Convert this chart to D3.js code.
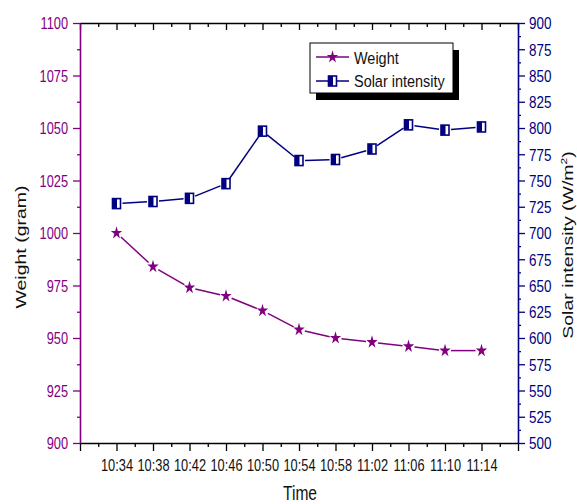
<!DOCTYPE html>
<html>
<head>
<meta charset="utf-8">
<script src="https://cdn.jsdelivr.net/npm/d3@7"></script>
<style>
  body { margin: 0; background: #fff; }
  svg { display: block; font-family: "Liberation Sans", Arial, sans-serif; }
</style>
</head>
<body>
<svg id="chart" width="577" height="504"></svg>
<script>
// data
var times = ["10:34", "10:38", "10:42", "10:46", "10:50", "10:54", "10:58", "11:02", "11:06", "11:10", "11:14"];
var weight = [1000, 984, 974, 970, 963, 954, 950, 948, 946, 944, 944];
var solar = [728, 730, 733, 747, 797, 769, 770, 780, 803, 798, 801];
var weightTicks = [900, 925, 950, 975, 1000, 1025, 1050, 1075, 1100];
var solarTicks = d3.range(500, 901, 25);

var purple = "#800080";
var navy = "#000080";

var svg = d3.select("#chart");
var plotLeft = 80, plotRight = 518, plotTop = 23, plotBottom = 443;

var x = d3.scaleLinear().domain([-1, times.length]).range([plotLeft, plotRight]);
var yL = d3.scaleLinear().domain([900, 1100]).range([plotBottom, plotTop]);
var yR = d3.scaleLinear().domain([500, 900]).range([plotBottom, plotTop]);

/* x axes */
var majorX = d3.range(-1, times.length + 1);
var minorX = d3.range(-0.5, times.length, 1);

var gB = svg.append("g").attr("transform", "translate(0," + plotBottom + ")")
  .call(d3.axisBottom(x).tickValues(majorX).tickSize(8).tickSizeOuter(0)
    .tickFormat(function(i){ return times[i] || ""; }));
svg.append("g").attr("transform", "translate(0," + plotBottom + ")")
  .call(d3.axisBottom(x).tickValues(minorX).tickSize(4).tickSizeOuter(0).tickFormat(""))
  .select(".domain").remove();
gB.selectAll("text")
  .attr("y", 0).attr("dy", 0)
  .attr("transform", "translate(0,28) scale(0.8,1)")
  .attr("font-size", 16).attr("fill", "#111");

var gT = svg.append("g").attr("transform", "translate(0," + plotTop + ")")
  .call(d3.axisTop(x).tickValues(majorX).tickSize(-7).tickSizeOuter(0).tickFormat(""));
svg.append("g").attr("transform", "translate(0," + plotTop + ")")
  .call(d3.axisTop(x).tickValues(minorX).tickSize(-4).tickSizeOuter(0).tickFormat(""))
  .select(".domain").remove();

[gB, gT].forEach(function(g){
  g.select(".domain").attr("stroke", "#000").attr("stroke-width", 1.6);
});
svg.selectAll(".tick line").attr("stroke", "#000").attr("stroke-width", 1.3);

/* left axis */
var gL = svg.append("g").attr("transform", "translate(" + plotLeft + ",0)")
  .call(d3.axisLeft(yL).tickValues(weightTicks).tickSize(7).tickSizeOuter(0).tickFormat(d3.format("d")));
var gLm = svg.append("g").attr("transform", "translate(" + plotLeft + ",0)")
  .call(d3.axisLeft(yL).tickValues(d3.range(912.5, 1100, 25)).tickSize(3).tickSizeOuter(0).tickFormat(""));
gLm.select(".domain").remove();
gL.select(".domain").attr("stroke", purple).attr("stroke-width", 1.6);
gL.selectAll(".tick line").attr("stroke", purple).attr("stroke-width", 1.3);
gLm.selectAll(".tick line").attr("stroke", purple).attr("stroke-width", 1.3);
gL.selectAll("text")
  .attr("x", 0).attr("dy", "0.36em")
  .attr("transform", "translate(-12,0) scale(0.8,1)")
  .attr("font-size", 16).attr("fill", purple);

/* right axis */
var gR = svg.append("g").attr("transform", "translate(" + plotRight + ",0)")
  .call(d3.axisRight(yR).tickValues(solarTicks).tickSize(7).tickSizeOuter(0).tickFormat(d3.format("d")));
var gRm = svg.append("g").attr("transform", "translate(" + plotRight + ",0)")
  .call(d3.axisRight(yR).tickValues(d3.range(512.5, 900, 25)).tickSize(3).tickSizeOuter(0).tickFormat(""));
gRm.select(".domain").remove();
gR.select(".domain").attr("stroke", navy).attr("stroke-width", 1.6);
gR.selectAll(".tick line").attr("stroke", navy).attr("stroke-width", 1.3);
gRm.selectAll(".tick line").attr("stroke", navy).attr("stroke-width", 1.3);
gR.selectAll("text")
  .attr("x", 0).attr("dy", "0.36em")
  .attr("transform", "translate(11,0) scale(0.84,1)")
  .attr("font-size", 16).attr("fill", navy);

svg.selectAll(".tick text").attr("font-family", "Liberation Sans, Arial, sans-serif");

/* axis titles */
svg.append("text")
  .attr("transform", "translate(26,247) rotate(-90) scale(1,0.78)")
  .attr("text-anchor", "middle").attr("font-size", 19.5).attr("fill", "#111")
  .text("Weight (gram)");

var tR = svg.append("text")
  .attr("transform", "translate(573,245) rotate(-90) scale(1,0.78)")
  .attr("text-anchor", "middle").attr("font-size", 19.5).attr("fill", "#111");
tR.append("tspan").text("Solar intensity (W/m");
tR.append("tspan").attr("dy", -8).attr("font-size", 12).text("2");
tR.append("tspan").attr("dy", 8).text(")");

svg.append("text")
  .attr("transform", "translate(300,500) scale(0.8,1)")
  .attr("text-anchor", "middle").attr("font-size", 19.5).attr("fill", "#111")
  .text("Time");

/* series lines, stopping short of the markers */
function segments(vals, yScale, gap){
  var segs = [];
  for (var i = 0; i < vals.length - 1; i++) {
    var x0 = x(i), y0 = yScale(vals[i]), x1 = x(i + 1), y1 = yScale(vals[i + 1]);
    var dx = x1 - x0, dy = y1 - y0, len = Math.sqrt(dx * dx + dy * dy);
    segs.push([x0 + dx / len * gap, y0 + dy / len * gap, x1 - dx / len * gap, y1 - dy / len * gap]);
  }
  return segs;
}

svg.append("g").selectAll("line")
  .data(segments(solar, yR, 6))
  .enter().append("line")
  .attr("x1", function(d){ return d[0]; }).attr("y1", function(d){ return d[1]; })
  .attr("x2", function(d){ return d[2]; }).attr("y2", function(d){ return d[3]; })
  .attr("stroke", navy).attr("stroke-width", 1.5);

svg.append("g").selectAll("line")
  .data(segments(weight, yL, 6))
  .enter().append("line")
  .attr("x1", function(d){ return d[0]; }).attr("y1", function(d){ return d[1]; })
  .attr("x2", function(d){ return d[2]; }).attr("y2", function(d){ return d[3]; })
  .attr("stroke", purple).attr("stroke-width", 1.5);

/* markers */
var star = d3.symbol().type(d3.symbolStar).size(40);

function halfSquare(g){
  g.append("rect").attr("x", -4).attr("y", -5).attr("width", 8).attr("height", 10)
    .attr("fill", "#fff").attr("stroke", navy).attr("stroke-width", 1.6);
  g.append("rect").attr("x", -4).attr("y", -5).attr("width", 4.5).attr("height", 10)
    .attr("fill", navy);
}

svg.append("g").selectAll("g")
  .data(solar)
  .enter().append("g")
  .attr("transform", function(d, i){ return "translate(" + x(i) + "," + yR(d) + ")"; })
  .each(function(){ halfSquare(d3.select(this)); });

svg.append("g").selectAll("path")
  .data(weight)
  .enter().append("path")
  .attr("d", star)
  .attr("transform", function(d, i){ return "translate(" + x(i) + "," + yL(d) + ") scale(1,1.15)"; })
  .attr("fill", purple);

/* legend */
var lg = svg.append("g").attr("transform", "translate(310,43)");
lg.append("rect").attr("x", 6).attr("y", 7).attr("width", 143).attr("height", 50).attr("fill", "#000");
lg.append("rect").attr("x", 0).attr("y", 0).attr("width", 143).attr("height", 50)
  .attr("fill", "#fff").attr("stroke", "#000").attr("stroke-width", 1);

lg.append("line").attr("x1", 6).attr("x2", 39).attr("y1", 14).attr("y2", 14)
  .attr("stroke", purple).attr("stroke-width", 1.5);
lg.append("path").attr("d", star).attr("transform", "translate(22.5,14) scale(1,1.15)").attr("fill", purple);
lg.append("text").attr("transform", "translate(44,21) scale(0.85,1)")
  .attr("font-size", 17).attr("fill", "#111").text("Weight");

lg.append("line").attr("x1", 6).attr("x2", 39).attr("y1", 38).attr("y2", 38)
  .attr("stroke", navy).attr("stroke-width", 1.5);
halfSquare(lg.append("g").attr("transform", "translate(22.5,38)"));
lg.append("text").attr("transform", "translate(44,44) scale(0.85,1)")
  .attr("font-size", 17).attr("fill", "#111").text("Solar intensity");
</script>
</body>
</html>
